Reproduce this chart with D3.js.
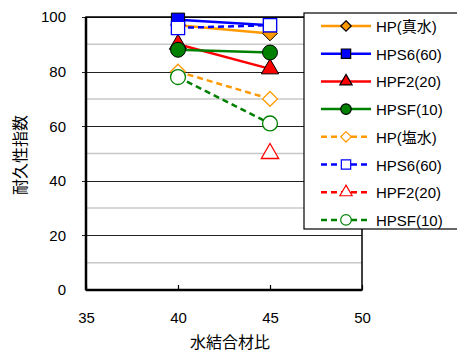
<!DOCTYPE html>
<html>
<head>
<meta charset="utf-8">
<script src="https://cdn.jsdelivr.net/npm/d3@7"></script>
<style>
  body { margin: 0; background: #fff; }
  svg { display: block; font-family: "Liberation Sans", Arial, "Noto Sans CJK JP", sans-serif; }
</style>
</head>
<body>
<svg id="chart" width="457" height="354"></svg>
<script>
// water-binder ratios on the x axis
var ratios = [40, 45];
var seriesNames = ["HP(真水)", "HPS6(60)", "HPF2(20)", "HPSF(10)", "HP(塩水)", "HPS6(60)", "HPF2(20)", "HPSF(10)"];
// durability index, per series
var hpFresh = [97, 94];
var hps6Fresh = [99, 97];
var hpf2Fresh = [90, 81];
var hpsfFresh = [88, 87];
var hpSalt = [80, 70];
var hps6Salt = [96, 97];
var hpf2Salt = [null, 50];
var hpsfSalt = [78, 61];
var xTicks = [35, 40, 45, 50];
var yTicks = [0, 20, 40, 60, 80, 100];

var seriesValues = [hpFresh, hps6Fresh, hpf2Fresh, hpsfFresh, hpSalt, hps6Salt, hpf2Salt, hpsfSalt];
var colors = ["#FF9900", "#0000FF", "#FF0000", "#008000"];
var shapes = ["diamond", "square", "triangle", "circle"];

var svg = d3.select("#chart"),
    margin = { top: 17, right: 95, bottom: 64, left: 86 },
    width = 362 - margin.left,
    height = 290 - margin.top;

var x = d3.scaleLinear().domain([35, 50]).range([0, width]);
var y = d3.scaleLinear().domain([0, 100]).range([height, 0]);

var g = svg.append("g")
    .attr("transform", "translate(" + margin.left + "," + margin.top + ")");

// minor grid lines (light)
g.selectAll(".minor")
    .data([10, 30, 50, 70, 90])
    .enter().append("line")
    .attr("x1", 0).attr("x2", width)
    .attr("y1", function (d) { return y(d); })
    .attr("y2", function (d) { return y(d); })
    .attr("stroke", "#c8c8c8").attr("stroke-width", 1.5);

// major grid lines
g.selectAll(".major")
    .data([20, 40, 60, 80, 100])
    .enter().append("line")
    .attr("x1", -4).attr("x2", width)
    .attr("y1", function (d) { return Math.round(y(d)) + 0.5; })
    .attr("y2", function (d) { return Math.round(y(d)) + 0.5; })
    .attr("stroke", "#222").attr("stroke-width", 1.2);

// plot frame
g.append("rect")
    .attr("x", 0).attr("y", 0)
    .attr("width", width).attr("height", height)
    .attr("fill", "none").attr("stroke", "#000").attr("stroke-width", 1.5);
g.append("line")
    .attr("x1", 0).attr("x2", width).attr("y1", height).attr("y2", height)
    .attr("stroke", "#000").attr("stroke-width", 2.5);
g.append("line")
    .attr("x1", 0).attr("x2", 0).attr("y1", 0).attr("y2", height)
    .attr("stroke", "#000").attr("stroke-width", 2.5);

// axes
var xAxis = g.append("g")
    .attr("transform", "translate(0," + height + ")")
    .call(d3.axisBottom(x).tickValues(xTicks).tickSizeInner(-5).tickSizeOuter(0).tickPadding(22));
xAxis.select(".domain").remove();
xAxis.selectAll("line").attr("stroke", "#000").attr("stroke-width", 1.2);
xAxis.selectAll("text").attr("font-size", "15px").attr("fill", "#000");

var yAxis = g.append("g")
    .call(d3.axisLeft(y).tickValues(yTicks).tickSize(0).tickPadding(20));
yAxis.select(".domain").remove();
yAxis.selectAll("text").attr("font-size", "15px").attr("fill", "#000");

// axis titles
svg.append("text")
    .attr("x", 230).attr("y", 348)
    .attr("text-anchor", "middle")
    .attr("font-size", "16px")
    .attr("font-family", "'Noto Sans CJK JP', sans-serif")
    .text("水結合材比");
svg.append("text")
    .attr("transform", "translate(26,155) rotate(-90)")
    .attr("text-anchor", "middle")
    .attr("font-size", "16px")
    .attr("font-family", "'Noto Sans CJK JP', sans-serif")
    .text("耐久性指数");

// square diamond (equal width and height)
var squareDiamond = {
    draw: function (context, size) {
        var r = Math.sqrt(size / 2);
        context.moveTo(0, -r);
        context.lineTo(r, 0);
        context.lineTo(0, r);
        context.lineTo(-r, 0);
        context.closePath();
    }
};

function symbolFor(shape, size) {
    var t = { diamond: squareDiamond, square: d3.symbolSquare, triangle: d3.symbolTriangle, circle: d3.symbolCircle }[shape];
    return d3.symbol().type(t).size(size)();
}
var markerSize = { diamond: 110, square: 175, triangle: 130, circle: 175 };

var line = d3.line()
    .defined(function (d) { return d.v != null; })
    .x(function (d) { return x(d.r); })
    .y(function (d) { return y(d.v); });

// draw series in legend order, later series on top
seriesValues.forEach(function (vals, i) {
    var k = i % 4, open = i >= 4;
    var pts = ratios.map(function (r, j) { return { r: r, v: vals[j] }; });
    g.append("path")
        .datum(pts)
        .attr("fill", "none")
        .attr("stroke", colors[k])
        .attr("stroke-width", 2.5)
        .attr("stroke-dasharray", open ? "6,4" : null)
        .attr("d", line);
    g.selectAll(null)
        .data(pts.filter(function (d) { return d.v != null; }))
        .enter().append("path")
        .attr("transform", function (d) { return "translate(" + x(d.r) + "," + y(d.v) + ")"; })
        .attr("d", symbolFor(shapes[k], markerSize[shapes[k]]))
        .attr("fill", open ? "#fff" : colors[k])
        .attr("stroke", open ? colors[k] : "#000")
        .attr("stroke-width", open ? 1.3 : 1);
});

// legend
var legend = svg.append("g");
legend.append("rect")
    .attr("x", 304).attr("y", 13)
    .attr("width", 160).attr("height", 216)
    .attr("fill", "#fff").attr("stroke", "#000").attr("stroke-width", 1.2);

seriesNames.forEach(function (name, i) {
    var k = i % 4, open = i >= 4;
    var ly = 26 + i * 27.7;
    legend.append("line")
        .attr("x1", 321).attr("x2", 371).attr("y1", ly).attr("y2", ly)
        .attr("stroke", colors[k]).attr("stroke-width", 2.5)
        .attr("stroke-dasharray", open ? "6,4" : null);
    legend.append("path")
        .attr("transform", "translate(346," + ly + ")")
        .attr("d", symbolFor(shapes[k], markerSize[shapes[k]] * 0.5))
        .attr("fill", open ? "#fff" : colors[k])
        .attr("stroke", open ? colors[k] : "#000")
        .attr("stroke-width", 1.2);
    legend.append("text")
        .attr("x", 376).attr("y", ly + 6)
        .attr("font-size", "15px")
        .text(name);
});
</script>
</body>
</html>
